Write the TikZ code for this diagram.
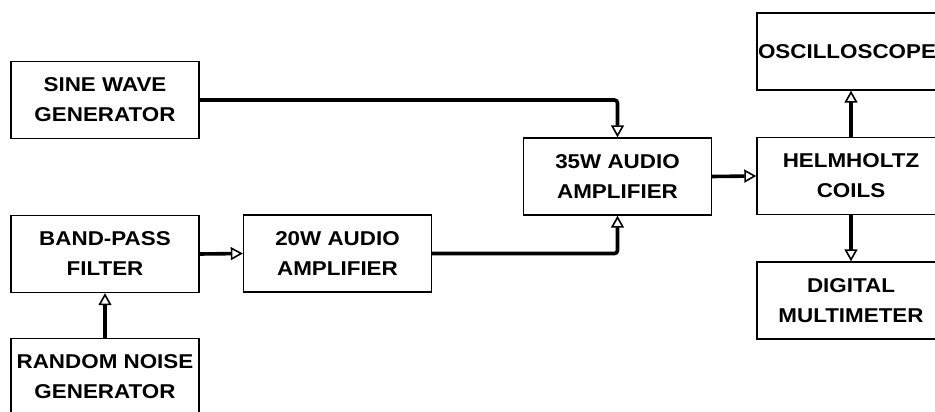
\documentclass[tikz,border=0pt]{standalone}
\usepackage{fontspec}
\setmainfont{Liberation Sans}[FakeStretch=1.12]
\usetikzlibrary{arrows.meta}

\begin{document}
\begin{tikzpicture}[
    x=1pt, y=-1pt,
    block/.style={draw, line width=1.4pt, minimum width=188pt, minimum height=77pt,
                  inner sep=0pt, align=center, font=\fontsize{20}{30}\selectfont\bfseries},
    link/.style={line width=3.6pt, rounded corners=3pt,
                 -{Triangle[open, length=12pt, width=13pt, line width=1.6pt]}}
]

\useasboundingbox (0,0) rectangle (935,412);
\clip (0,0) rectangle (935,412);

\node[block] (sine)  at (105,100)   {SINE WAVE\\GENERATOR};
\node[block] (band)  at (105,254)   {BAND-PASS\\FILTER};
\node[block] (noise) at (105,377)   {RANDOM NOISE\\GENERATOR};
\node[block] (amp20) at (337.5,253.5) {20W AUDIO\\AMPLIFIER};
\node[block] (amp35) at (617.5,176.5) {35W AUDIO\\AMPLIFIER};
\node[block] (helm)  at (851,176)   {HELMHOLTZ\\COILS};
\node[block, minimum width=180pt] (osc) at (847,51.5) {OSCILLOSCOPE};
\node[block] (dmm)   at (851,300.5) {DIGITAL\\MULTIMETER};

\draw[link] (sine.east) -| (amp35.north);
\draw[link] (amp20.east) -| (amp35.south);
\draw[link] (band.east) -- (amp20.west);
\draw[link] (noise.north) -- (band.south);
\draw[link] (amp35.east) -- (helm.west);
\draw[link] (helm.north) -- (helm.north |- osc.south);
\draw[link] (helm.south) -- (dmm.north);

\end{tikzpicture}
\end{document}
